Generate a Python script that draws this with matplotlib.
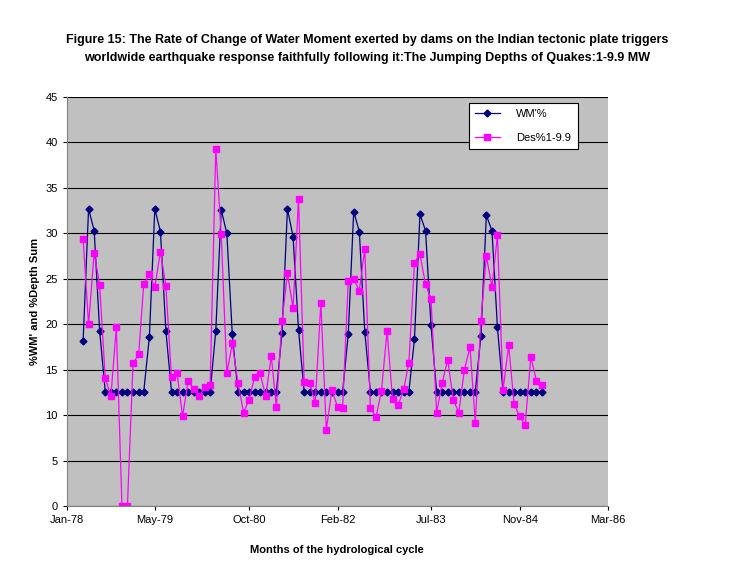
import datetime as dt

import matplotlib
matplotlib.use("Agg")
import matplotlib.pyplot as plt
import matplotlib.dates as mdates
import pandas as pd

plt.rcParams["font.family"] = ["Liberation Sans", "DejaVu Sans"]

wm_cycles = [
    [18.2, 32.7, 30.3, 19.3],
    [18.6, 32.7, 30.2, 19.3],
    [19.3, 32.6, 30.0, 18.9],
    [19.1, 32.7, 29.6, 19.4],
    [18.9, 32.4, 30.2, 19.2],
    [18.4, 32.1, 30.3, 19.9],
    [18.7, 32.0, 30.3, 19.7],
]
wm_base = 12.6

des = [
    29.4, 20.0, 27.9, 24.3, 14.1, 12.1, 19.7, 0.0, 0.0, 15.7, 16.7, 24.4,
    25.5, 24.1, 28.0, 24.2, 14.2, 14.6, 9.9, 13.8, 12.9, 12.1, 13.1, 13.3,
    39.3, 29.9, 14.6, 17.9, 13.6, 10.3, 11.7, 14.2, 14.6, 12.1, 16.5, 10.9,
    20.4, 25.6, 21.8, 33.8, 13.7, 13.6, 11.3, 22.4, 8.4, 12.8, 10.9, 10.8,
    24.8, 25.0, 23.7, 28.3, 10.8, 9.8, 12.7, 19.3, 11.8, 11.1, 12.9, 15.8,
    26.8, 27.7, 24.4, 22.8, 10.3, 13.6, 16.1, 11.7, 10.3, 15.0, 17.5, 9.2,
    20.4, 27.5, 24.1, 29.8, 12.8, 17.7, 11.2, 9.9, 8.9, 16.4, 13.8, 13.3,
]

tick_dates = ["1978-01-01", "1979-05-01", "1980-10-01", "1982-02-01",
              "1983-07-01", "1984-11-01", "1986-03-01"]

wm = []
for c in wm_cycles:
    wm += c + [wm_base] * 8

months = pd.date_range("1978-04-01", periods=len(wm), freq="MS")

fig = plt.figure(figsize=(7.34, 5.74), dpi=100)
ax = fig.add_axes([0.091, 0.118, 0.737, 0.713])
ax.set_facecolor("#C0C0C0")

ax.plot(months, wm, color="#000080", lw=0.9, marker="D", ms=3.5,
        label="WM'%")
ax.plot(months, des, color="#FF00FF", lw=0.9, marker="s", ms=5,
        label="Des%1-9.9")

ax.set_ylim(0, 45)
ax.set_yticks(range(0, 46, 5))
ax.yaxis.grid(True, color="black", lw=0.8)
ax.set_axisbelow(True)
ax.set_xlim(dt.date(1978, 1, 1), dt.date(1986, 3, 1))
ax.set_xticks([pd.Timestamp(d) for d in tick_dates])
ax.xaxis.set_major_formatter(mdates.DateFormatter("%b-%y"))
ax.tick_params(labelsize=8, length=3)
for s in ["top", "right"]:
    ax.spines[s].set_visible(False)
ax.spines["left"].set_color("#808080")
ax.spines["bottom"].set_color("#808080")

ax.set_ylabel("%WM' and %Depth Sum", fontsize=8, fontweight="bold")
ax.set_xlabel("Months of the hydrological cycle", fontsize=8,
              fontweight="bold", labelpad=14)

leg = ax.legend(loc="upper right", bbox_to_anchor=(0.955, 1.0), fontsize=8,
                fancybox=False, edgecolor="black", framealpha=1,
                handlelength=2.2, borderpad=0.6, labelspacing=1.2,
                handletextpad=1.5)
leg.get_frame().set_linewidth(0.8)

fig.text(0.5, 0.94, "Figure 15: The Rate of Change of Water Moment exerted by dams on the Indian tectonic plate triggers\n"
         "worldwide earthquake response faithfully following it:The Jumping Depths of Quakes:1-9.9 MW",
         ha="center", va="top", fontsize=9, fontweight="bold", linespacing=1.6)

fig.savefig("out.png", dpi=100)
